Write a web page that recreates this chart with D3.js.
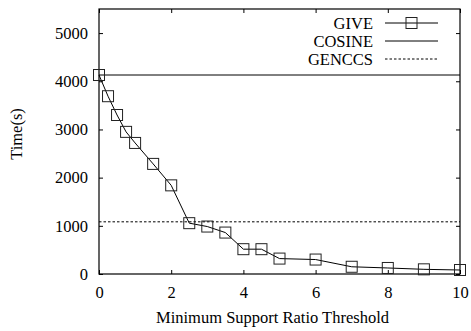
<!DOCTYPE html>
<html>
<head>
<meta charset="utf-8">
<script src="https://cdn.jsdelivr.net/npm/d3@7"></script>
<style>
  body { margin: 0; background: #fff; }
  svg text { font-family: "Liberation Serif", "Times New Roman", serif; fill: #000; }
</style>
</head>
<body>
<svg id="chart" width="471" height="331"></svg>
<script>
// data
const thresholds = [0, 0.25, 0.5, 0.75, 1, 1.5, 2, 2.5, 3, 3.5, 4, 4.5, 5, 6, 7, 8, 9, 10];
const giveTimes = [4130, 3690, 3300, 2950, 2720, 2285, 1840, 1055, 985, 860, 515, 515, 320, 300, 150, 125, 97, 83];
const cosineTime = 4130;
const genccsTime = 1083;
const xTicks = [0, 2, 4, 6, 8, 10];
const yTicks = [0, 1000, 2000, 3000, 4000, 5000];
const legendNames = ["GIVE", "COSINE", "GENCCS"];

const margin = { top: 9, right: 11, bottom: 57, left: 99 };
const width = 471, height = 331;
const svg = d3.select("#chart");

const x = d3.scaleLinear().domain([0, 10]).range([margin.left, width - margin.right]);
const y = d3.scaleLinear().domain([0, 5500]).range([height - margin.bottom, margin.top]);

const x0 = x.range()[0], x1 = x.range()[1];
const y0 = y.range()[0], y1 = y.range()[1];
const tick = 4;
const serif = '"Liberation Serif", "Times New Roman", serif';

// axes (gnuplot style, ticks inward, mirrored)
svg.append("g")
    .attr("transform", "translate(0," + y0 + ")")
    .call(d3.axisBottom(x).tickValues(xTicks).tickSize(-tick).tickPadding(12).tickFormat(d3.format("d")))
    .call(g => g.select(".domain").remove())
    .call(g => g.attr("font-family", serif).attr("font-size", 16.5));

svg.append("g")
    .attr("transform", "translate(0," + y1 + ")")
    .call(d3.axisTop(x).tickValues(xTicks).tickSize(-tick).tickFormat(""))
    .call(g => g.select(".domain").remove());

svg.append("g")
    .attr("transform", "translate(" + x0 + ",0)")
    .call(d3.axisLeft(y).tickValues(yTicks).tickSize(-tick).tickPadding(11).tickFormat(d3.format("d")))
    .call(g => g.select(".domain").remove())
    .call(g => g.attr("font-family", serif).attr("font-size", 16.5));

svg.append("g")
    .attr("transform", "translate(" + x1 + ",0)")
    .call(d3.axisRight(y).tickValues(yTicks).tickSize(-tick).tickFormat(""))
    .call(g => g.select(".domain").remove());

svg.selectAll(".tick line").attr("stroke", "#000");

// frame
svg.append("rect")
    .attr("x", x0).attr("y", y1)
    .attr("width", x1 - x0).attr("height", y0 - y1)
    .attr("fill", "none").attr("stroke", "#000").attr("stroke-width", 1.2);

// reference lines
svg.append("line")
    .attr("x1", x0).attr("x2", x1)
    .attr("y1", y(cosineTime)).attr("y2", y(cosineTime))
    .attr("stroke", "#000").attr("stroke-width", 1);

svg.append("line")
    .attr("x1", x0).attr("x2", x1)
    .attr("y1", y(genccsTime)).attr("y2", y(genccsTime))
    .attr("stroke", "#000").attr("stroke-width", 1)
    .attr("stroke-dasharray", "2.5,2");

// GIVE series
const pts = thresholds.map((t, i) => [t, giveTimes[i]]);
svg.append("path")
    .datum(pts)
    .attr("fill", "none").attr("stroke", "#000").attr("stroke-width", 1)
    .attr("d", d3.line().x(d => x(d[0])).y(d => y(d[1])));

const sq = 11;
svg.append("g").selectAll("rect")
    .data(pts)
    .join("rect")
    .attr("x", d => x(d[0]) - sq / 2)
    .attr("y", d => y(d[1]) - sq / 2)
    .attr("width", sq).attr("height", sq)
    .attr("fill", "none").attr("stroke", "#222").attr("stroke-width", 1);

// legend
const legend = svg.append("g");
legendNames.forEach((name, i) => {
    const ly = 23 + i * 18;
    legend.append("text")
        .attr("x", 373).attr("y", ly)
        .attr("dy", "0.35em")
        .attr("text-anchor", "end")
        .attr("font-size", 16.5)
        .text(name);
    const ln = legend.append("line")
        .attr("x1", 385).attr("x2", 438)
        .attr("y1", ly).attr("y2", ly)
        .attr("stroke", "#000").attr("stroke-width", 1);
    if (i === 2) ln.attr("stroke-dasharray", "2.5,2");
    if (i === 0) {
        legend.append("rect")
            .attr("x", 411.5 - sq / 2).attr("y", ly - sq / 2)
            .attr("width", sq).attr("height", sq)
            .attr("fill", "none").attr("stroke", "#222");
    }
});

// axis titles
svg.append("text")
    .attr("x", (x0 + x1) / 2 - 7).attr("y", 323)
    .attr("text-anchor", "middle")
    .attr("font-size", 16.5)
    .text("Minimum Support Ratio Threshold");

svg.append("text")
    .attr("transform", "translate(22,134) rotate(-90)")
    .attr("text-anchor", "middle")
    .attr("font-size", 16.5)
    .text("Time(s)");
</script>
</body>
</html>
